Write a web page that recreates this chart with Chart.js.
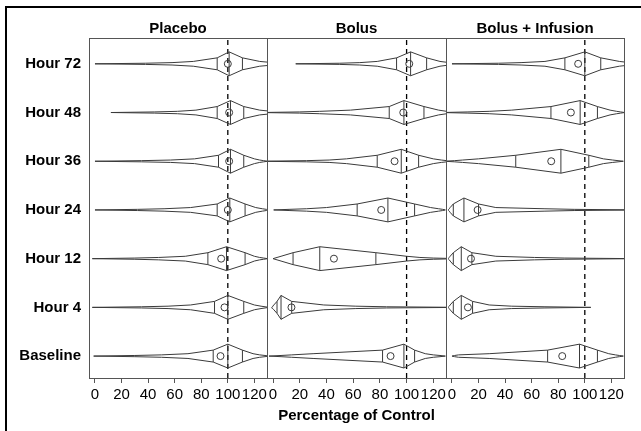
<!DOCTYPE html>
<html>
<head>
<meta charset="utf-8">
<title>Percentage of Control</title>
<script src="https://cdn.jsdelivr.net/npm/chart.js@4.4.1/dist/chart.umd.min.js"></script>
<style>
  body { margin: 0; background: #fff; }
  #wrap { position: relative; width: 641px; height: 431px; overflow: hidden; }
  #wrap canvas { position: absolute; left: 0; top: 0; }
  #frame { position: absolute; left: 5px; top: 6px; width: 700px; height: 500px;
           border-left: 2px solid #000; border-top: 2px solid #000; }
</style>
</head>
<body>
<div id="wrap">
  <div id="frame"></div>
  <canvas id="placeboChart" width="641" height="431"></canvas>
  <canvas id="bolusChart" width="641" height="431"></canvas>
  <canvas id="infusionChart" width="641" height="431"></canvas>
</div>
<script>
// Rows, bottom to top
const ROWS = ['Baseline', 'Hour 4', 'Hour 12', 'Hour 24', 'Hour 36', 'Hour 48', 'Hour 72'];
const PANELS = ['Placebo', 'Bolus', 'Bolus + Infusion'];
const X_TICKS = [0, 20, 40, 60, 80, 100, 120];
const CONTROL = 100;

// Percentile levels read for every shape
const PROBS = [0, 0.025, 0.05, 0.1, 0.25, 0.5, 0.75, 0.9, 0.95, 0.975, 1];

// Percentiles per row (same order as ROWS)
const PLACEBO_Q = [
  [-1, 30, 50, 70, 89, 100, 111, 119, 124, 128, 131],
  [-2, 35, 55, 72, 90, 100, 112, 120, 125, 128, 131],
  [-2, 30, 48, 68, 85, 99, 113, 120, 124, 127, 130],
  [0, 32, 52, 72, 92, 101.5, 113, 121, 126, 129, 132],
  [0, 35, 57, 75, 93, 102, 112, 120, 124, 127, 130],
  [12, 45, 62, 76, 92, 102, 112, 124, 133, 140, 150],
  [0, 38, 58, 74, 92, 101, 111, 124, 134, 140, 150]
];
const PLACEBO_MEAN = [94.5, 97.5, 95, 100, 101, 101, 100];

const BOLUS_Q = [
  [-3, 6, 14, 30, 82, 98, 106, 114, 120, 125, 129],
  [-1, -0.6, -0.2, 0.6, 3, 6, 14, 38, 62, 85, 140],
  [0, 1.5, 3, 6, 15, 35, 77, 100, 110, 120, 140],
  [0.5, 12, 25, 40, 63, 86, 106, 118, 124, 127, 129],
  [-10, 25, 42, 55, 78, 96, 109, 120, 126, 130, 135],
  [-10, 20, 35, 58, 87, 98, 113, 124, 130, 135, 140],
  [17, 50, 65, 78, 92.5, 103, 115, 125, 132, 138, 145]
];
const BOLUS_MEAN = [88, 13.8, 45.6, 81, 91, 97.5, 102];

const INFUSION_Q = [
  [0, 2, 5, 28, 72, 96, 109.5, 118, 123, 126, 129],
  [-3, -2.5, -2, -1.4, 1, 7, 15.5, 28, 45, 70, 104.5],
  [-3, -2.5, -2, -1.4, 1, 7, 15, 33, 62, 85, 140],
  [-3, -2.5, -2, -1.4, 1, 9, 20, 33, 70, 92, 140],
  [-6, 2, 8, 20, 48, 82, 103, 114, 121, 125, 129],
  [-8, 12, 28, 45, 74.5, 96.5, 109.5, 119, 124, 127, 130],
  [0, 35, 52, 70, 85, 100, 112, 126, 134, 140, 150]
];
const INFUSION_MEAN = [83, 12, 14.3, 19.3, 74.7, 89.5, 95];

// Axis ranges
const X_MIN = -4.5, X_MAX = 129.5;
const Y_MIN = -0.45, Y_MAX = 6.53;
const HALF = 0.245; // half height of a shape at its median, in row units

const LINE_COLOR = '#3a3a3a';

// Half height of the outline at percentile p (box-percentile plot)
function halfWidth(p) {
  return HALF * 2 * Math.min(p, 1 - p);
}

// Closed outline for every row, separated by gaps
function outlinePoints(quantiles) {
  const pts = [];
  quantiles.forEach((q, row) => {
    const upper = q.map((v, i) => ({ x: v, y: row + halfWidth(PROBS[i]) }));
    const lower = q.map((v, i) => ({ x: v, y: row - halfWidth(PROBS[i]) })).reverse();
    pts.push(...upper, ...lower, upper[0], { x: q[0], y: NaN });
  });
  return pts;
}

// Vertical lines at the 25th, 50th and 75th percentiles
function quartilePoints(quantiles) {
  const pts = [];
  quantiles.forEach((q, row) => {
    [0.25, 0.5, 0.75].forEach(p => {
      const v = q[PROBS.indexOf(p)];
      const h = halfWidth(p);
      pts.push({ x: v, y: row - h }, { x: v, y: row + h }, { x: v, y: NaN });
    });
  });
  return pts;
}

// Frame around each panel's plot area
const panelFrame = {
  id: 'panelFrame',
  afterDatasetsDraw(chart) {
    const { ctx, chartArea: a } = chart;
    ctx.save();
    ctx.strokeStyle = '#555';
    ctx.lineWidth = 1;
    ctx.strokeRect(a.left + 0.5, a.top + 0.5, a.right - a.left, a.bottom - a.top);
    ctx.restore();
  }
};

/**
 * Builds one panel of the figure
 */
function buildPanel(canvasId, title, quantiles, means, opts) {
  const ctx = document.getElementById(canvasId).getContext('2d');

  const datasets = [
    {
      label: 'outline',
      data: outlinePoints(quantiles),
      borderColor: LINE_COLOR,
      borderWidth: 1,
      pointRadius: 0,
      tension: 0,
      clip: 0
    },
    {
      label: 'quartiles',
      data: quartilePoints(quantiles),
      borderColor: LINE_COLOR,
      borderWidth: 1,
      pointRadius: 0,
      clip: 0
    },
    {
      label: 'mean',
      data: means.map((m, i) => ({ x: m, y: i })),
      showLine: false,
      pointRadius: 3.5,
      pointBorderWidth: 1,
      pointBorderColor: LINE_COLOR,
      pointBackgroundColor: 'rgba(0,0,0,0)'
    },
    {
      label: 'control',
      data: [{ x: CONTROL, y: Y_MIN }, { x: CONTROL, y: Y_MAX }],
      borderColor: '#000',
      borderWidth: 1.3,
      borderDash: [5, 4],
      pointRadius: 0
    }
  ];

  const yScale = {
    type: 'linear',
    min: Y_MIN,
    max: Y_MAX,
    display: !!opts.rows,
    afterBuildTicks: s => { s.ticks = ROWS.map((r, i) => ({ value: i })); },
    grid: { display: false, drawTicks: false },
    border: { display: false },
    ticks: {
      autoSkip: false,
      padding: 8,
      color: '#000',
      font: { size: 15, weight: 'bold' },
      callback: v => ROWS[v]
    }
  };
  if (opts.rows) {
    yScale.afterFit = s => { s.width = 89; };
  }

  return new Chart(ctx, {
    type: 'line',
    data: { datasets: datasets },
    options: {
      responsive: false,
      animation: false,
      layout: { padding: { left: opts.left, right: opts.right, top: 20, bottom: 0 } },
      plugins: {
        legend: { display: false },
        tooltip: { enabled: false },
        title: {
          display: true,
          text: title,
          fullSize: false,
          padding: 0,
          color: '#000',
          font: { size: 15, weight: 'bold' }
        }
      },
      scales: {
        x: {
          type: 'linear',
          min: X_MIN,
          max: X_MAX,
          afterBuildTicks: s => { s.ticks = X_TICKS.map(v => ({ value: v })); },
          afterFit: s => { s.height = 53; },
          grid: { drawOnChartArea: false, drawTicks: true, tickLength: 5, color: '#555' },
          border: { display: false },
          ticks: { autoSkip: false, maxRotation: 0, minRotation: 0, padding: 3, color: '#000', font: { size: 15 } },
          title: {
            display: !!opts.xTitle,
            text: opts.xTitle || '',
            color: '#000',
            padding: { top: 0, bottom: 6 },
            font: { size: 15, weight: 'bold' }
          }
        },
        y: yScale
      }
    },
    plugins: [panelFrame]
  });
}

document.addEventListener('DOMContentLoaded', function() {
  Chart.defaults.font.family = "'Liberation Sans', Arial, sans-serif";
  Chart.defaults.color = '#000';

  buildPanel('placeboChart', PANELS[0], PLACEBO_Q, PLACEBO_MEAN, { left: 0, right: 374, rows: true });
  buildPanel('bolusChart', PANELS[1], BOLUS_Q, BOLUS_MEAN, { left: 267, right: 195, xTitle: 'Percentage of Control' });
  buildPanel('infusionChart', PANELS[2], INFUSION_Q, INFUSION_MEAN, { left: 446, right: 17 });
});
</script>
</body>
</html>
